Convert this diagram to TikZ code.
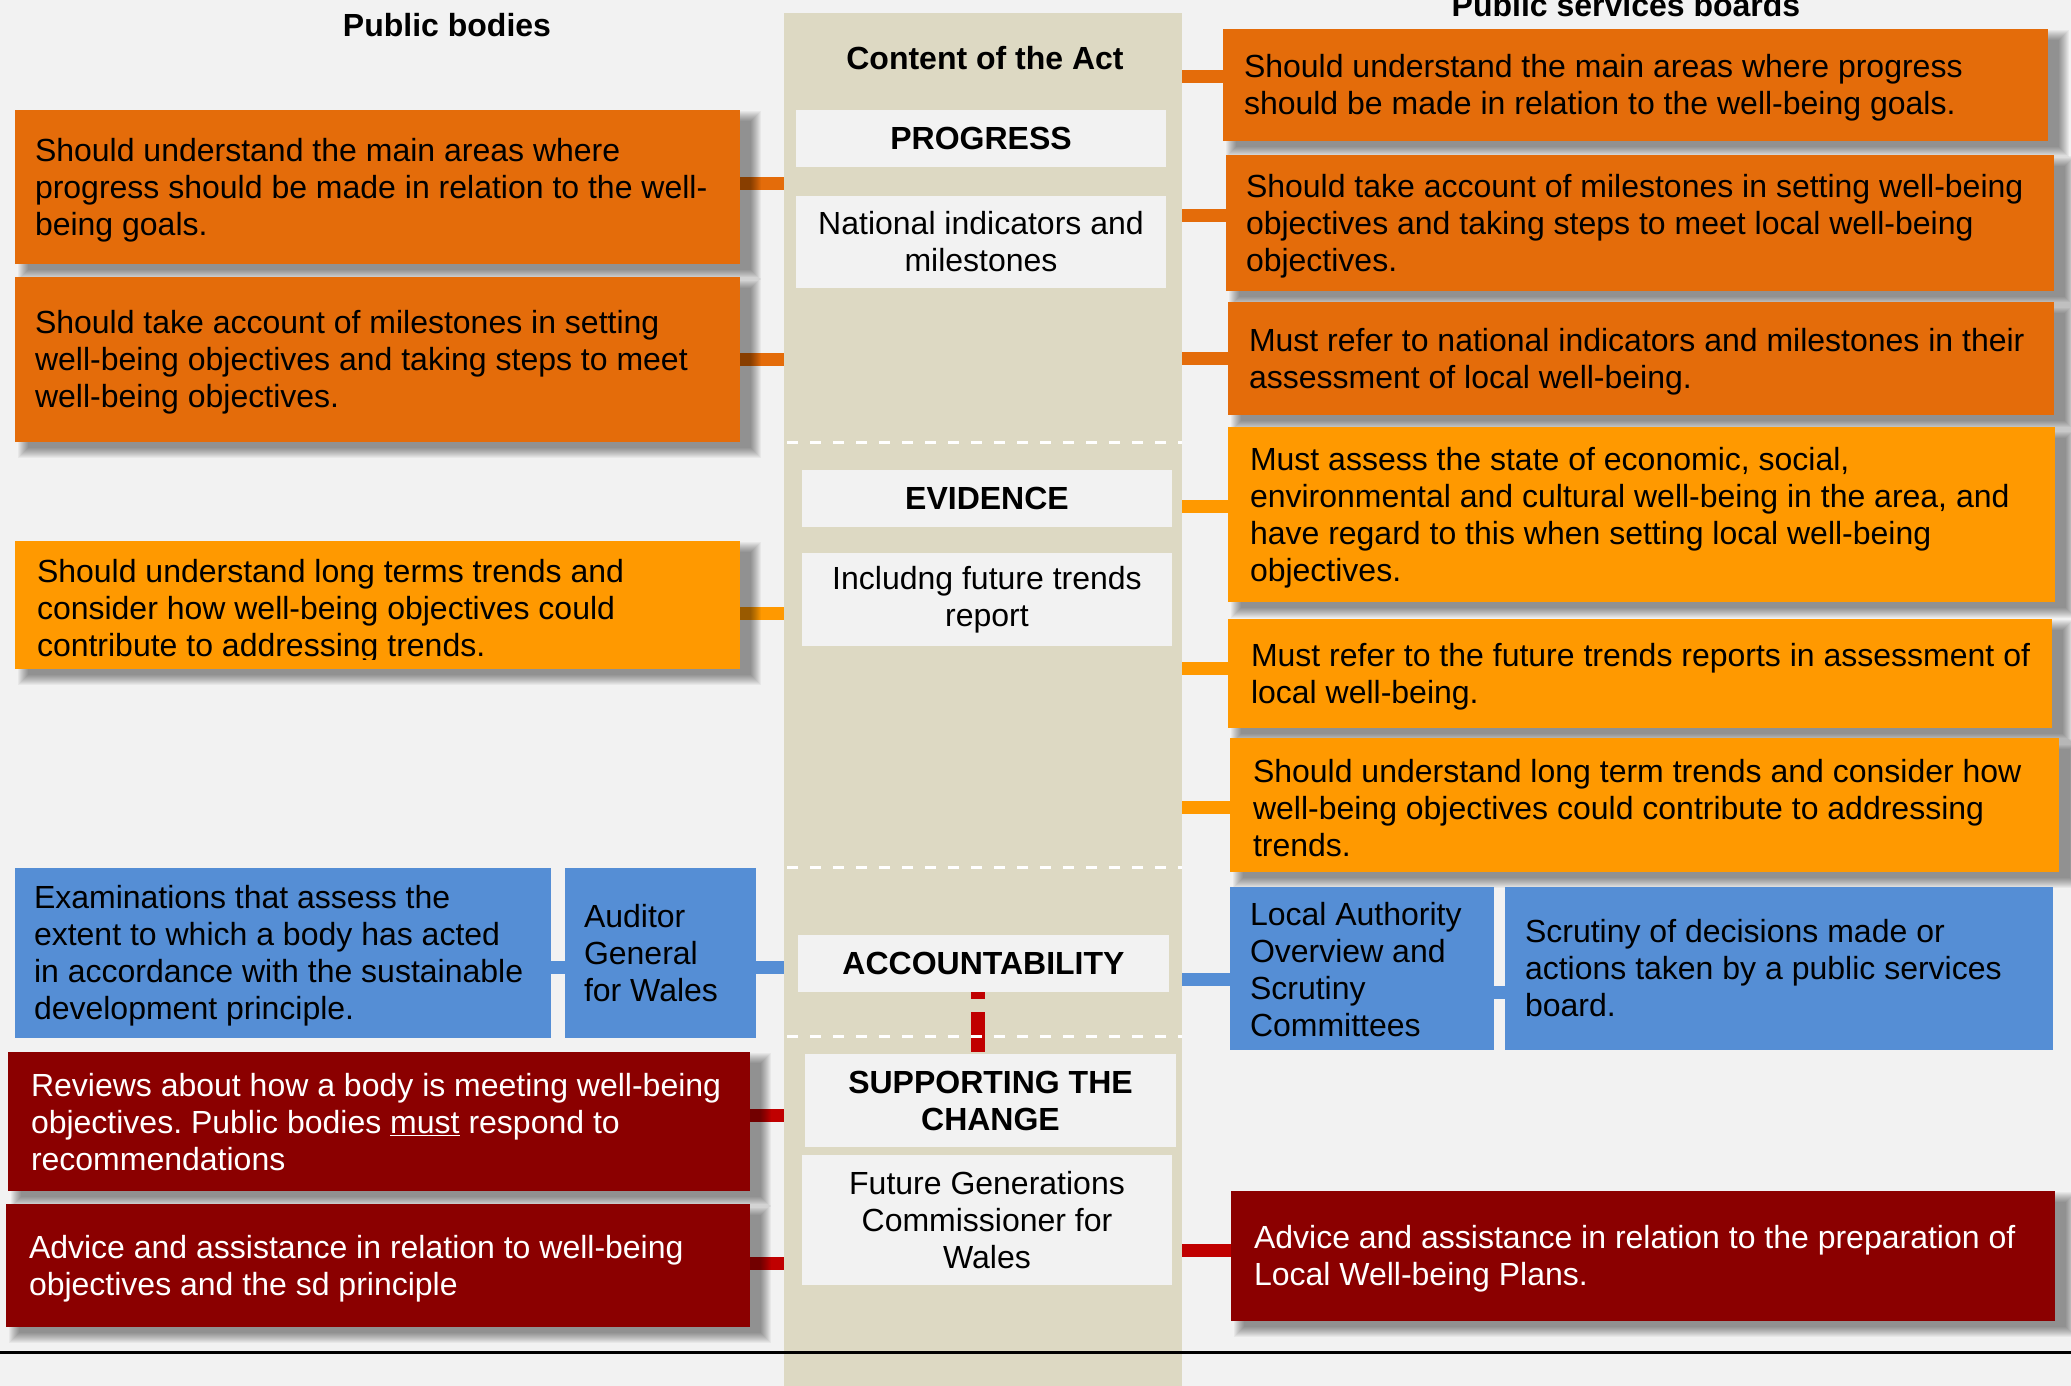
\documentclass[tikz,border=0pt]{standalone}
\usepackage{fontspec}
\setmainfont{Liberation Sans}
\usetikzlibrary{calc}
\frenchspacing

\definecolor{bgc}{HTML}{F2F2F2}
\definecolor{colc}{HTML}{DDD9C3}
\definecolor{orD}{HTML}{E46C0A}
\definecolor{orL}{HTML}{FF9900}
\definecolor{blu}{HTML}{558ED5}
\definecolor{redD}{HTML}{8B0000}
\definecolor{redC}{HTML}{C00000}

\newcommand\bodyfont{\fontsize{32}{37}\selectfont}

\pgfdeclarelayer{bg}
\pgfdeclarelayer{conn}
\pgfdeclarelayer{dash}
\pgfdeclarelayer{shad}
\pgfsetlayers{bg,conn,dash,shad,main}

\tikzset{
  sz/.style 2 args={minimum width=#1pt, minimum height=#2pt},
  box/.style={rectangle, inner sep=0pt, draw=none},
  obox/.style={box, fill=orD},
  lbox/.style={box, fill=orL},
  bbox/.style={box, fill=blu},
  rbox/.style={box, fill=redD},
  wbox/.style={box, fill=bgc, align=center, font=\bodyfont},
  txt/.style={inner sep=0pt, align=left, font=\bodyfont, anchor=west, yshift=-3pt},
  wtxt/.style={txt, text=white},
  head/.style={inner sep=0pt, font=\bodyfont\bfseries, anchor=base},
  conn/.style={line width=13pt},
  sepline/.style={white, line width=3pt, dash pattern=on 11pt off 12pt},
}

% soft drop shadow below a box node
\newcommand\boxshadow[1]{%
  \begin{pgfonlayer}{shad}
    \foreach \e in {-5,...,5}{
      \fill[black, opacity=0.042]
        ($(#1.north west)+(8-\e,6-\e)$) rectangle ($(#1.south east)+(16+\e,11+\e)$);
    }
  \end{pgfonlayer}}

\begin{document}
\begin{tikzpicture}[x=1pt, y=-1pt]
  \useasboundingbox (0,0) rectangle (2071,1386);

  \begin{pgfonlayer}{bg}
    \fill[bgc] (0,0) rectangle (2071,1386);
    \node[box, fill=colc, sz={398}{1380}, anchor=north west] (col) at (784,13) {};
  \end{pgfonlayer}

  % column headings
  \node[head] (hpb) at (447,37) {Public bodies};
  \node[head] (hpsb) at (1626,17) {Public services boards};
  \node[head] (hact) at (985,70) {Content of the Act};

  % content of the Act
  \node[wbox, sz={370}{57}, font=\bodyfont\bfseries] (prog) at (981,138.5) {PROGRESS};
  \node[wbox, sz={370}{92}] (nat) at (981,242) {National indicators and\\milestones};
  \node[wbox, sz={370}{57}, font=\bodyfont\bfseries] (evid) at (987,498.5) {EVIDENCE};
  \node[wbox, sz={370}{93}] (incl) at (987,599.5) {Includng future trends\\report};
  \node[wbox, sz={371}{57}, font=\bodyfont\bfseries] (acc) at (983.5,963.5) {ACCOUNTABILITY};
  \node[wbox, sz={371}{93}, font=\bodyfont\bfseries] (sup) at (990.5,1100.5) {SUPPORTING THE\\CHANGE};
  \node[wbox, sz={370}{130}] (fgc) at (987,1220) {Future Generations\\Commissioner for\\Wales};

  % public bodies
  \node[obox, sz={725}{154}] (L1) at (377.5,187) {};
  \node[txt] (L1t) at ([xshift=20pt]L1.west) {Should understand the main areas where\\progress should be made in relation to the well-\\being goals.};
  \node[obox, sz={725}{165}] (L2) at (377.5,359.5) {};
  \node[txt] (L2t) at ([xshift=20pt]L2.west) {Should take account of milestones in setting\\well-being objectives and taking steps to meet\\well-being objectives.};
  \node[lbox, sz={725}{128}] (L3) at (377.5,605) {};
  \begin{scope}
    \clip (L3.north west) rectangle ([yshift=10pt]L3.south east);
    \node[txt] (L3t) at ([xshift=22pt, yshift=-3pt]L3.west) {Should understand long terms trends and\\consider how well-being objectives could\\contribute to addressing trends.};
  \end{scope}
  \node[bbox, sz={536}{170}] (LB1) at (283,953) {};
  \node[txt] (LB1t) at ([xshift=19pt]LB1.west) {Examinations that assess the\\extent to which a body has acted\\in accordance with the sustainable\\development principle.};
  \node[bbox, sz={191}{170}] (LB2) at (660.5,953) {};
  \node[txt] (LB2t) at ([xshift=19pt, yshift=3pt]LB2.west) {Auditor\\General\\for Wales};
  \node[rbox, sz={742}{139}] (LR1) at (379,1121.5) {};
  \node[wtxt] (LR1t) at ([xshift=23pt, yshift=2pt]LR1.west) {Reviews about how a body is meeting well-being\\objectives. Public bodies \underline{must} respond to\\recommendations};
  \node[rbox, sz={744}{123}] (LR2) at (378,1265.5) {};
  \node[wtxt] (LR2t) at ([xshift=23pt]LR2.west) {Advice and assistance in relation to well-being\\objectives and the sd principle};

  % public services boards
  \node[obox, sz={825}{112}] (R1) at (1635.5,85) {};
  \node[txt] (R1t) at ([xshift=21pt]R1.west) {Should understand the main areas where progress\\should be made in relation to the well-being goals.};
  \node[obox, sz={828}{136}] (R2) at (1640,223) {};
  \node[txt] (R2t) at ([xshift=20pt]R2.west) {Should take account of milestones in setting well-being\\objectives and taking steps to meet local well-being\\objectives.};
  \node[obox, sz={826}{113}] (R3) at (1641,358.5) {};
  \node[txt] (R3t) at ([xshift=21pt]R3.west) {Must refer to national indicators and milestones in their\\assessment of local well-being.};
  \node[lbox, sz={827}{175}] (R4) at (1641.5,514.5) {};
  \node[txt] (R4t) at ([xshift=22pt]R4.west) {Must assess the state of economic, social,\\environmental and cultural well-being in the area, and\\have regard to this when setting local well-being\\objectives.};
  \node[lbox, sz={824}{109}] (R5) at (1640,673.5) {};
  \node[txt] (R5t) at ([xshift=23pt]R5.west) {Must refer to the future trends reports in assessment of\\local well-being.};
  \node[lbox, sz={829}{134}] (R6) at (1644.5,805) {};
  \node[txt] (R6t) at ([xshift=23pt]R6.west) {Should understand long term trends and consider how\\well-being objectives could contribute to addressing\\trends.};
  \node[bbox, sz={264}{163}] (RB1) at (1362,968.5) {};
  \node[txt] (RB1t) at ([xshift=20pt, yshift=2pt]RB1.west) {Local Authority\\Overview and\\Scrutiny\\Committees};
  \node[bbox, sz={548}{163}] (RB2) at (1779,968.5) {};
  \node[txt] (RB2t) at ([xshift=20pt, yshift=3pt]RB2.west) {Scrutiny of decisions made or\\actions taken by a public services\\board.};
  \node[rbox, sz={824}{130}] (RR1) at (1643,1256) {};
  \node[wtxt] (RR1t) at ([xshift=23pt]RR1.west) {Advice and assistance in relation to the preparation of\\Local Well-being Plans.};

  % shadows of the coloured boxes
  \foreach \b in {L1,L2,L3,LR1,LR2,R1,R2,R3,R4,R5,R6,RR1}{\boxshadow{\b}}

  % section separators in the column
  \begin{pgfonlayer}{dash}
    \draw[sepline] (787,442) -- (1182,442);
    \draw[sepline] (787,867) -- (1182,867);
    \draw[sepline] (787,1036) -- (1182,1036);
  \end{pgfonlayer}

  % connectors
  \begin{pgfonlayer}{conn}
    \draw[conn, orD] ([yshift=4pt]L1.east) -- ([yshift=4pt]L1.east -| col.west);
    \draw[conn, orD] (L2.east) -- (L2.east -| col.west);
    \draw[conn, orL] ([yshift=-8pt]L3.east) -- ([yshift=-8pt]L3.east -| col.west);
    \draw[conn, blu] ([yshift=-14.5pt]LB1.east) -- ([yshift=-14.5pt]LB2.west);
    \draw[conn, blu] ([yshift=-14.5pt]LB2.east) -- ([yshift=-14.5pt]LB2.east -| col.west);
    \draw[conn, redC] ([yshift=6.5pt]LR1.east) -- ([yshift=6.5pt]LR1.east -| col.west);
    \draw[conn, redC] ([yshift=2pt]LR2.east) -- ([yshift=2pt]LR2.east -| col.west);

    \draw[conn, orD] ([yshift=8.5pt]R1.west -| col.east) -- ([yshift=8.5pt]R1.west);
    \draw[conn, orD] ([yshift=7.5pt]R2.west -| col.east) -- ([yshift=7.5pt]R2.west);
    \draw[conn, orD] (R3.west -| col.east) -- (R3.west);
    \draw[conn, orL] ([yshift=8.5pt]R4.west -| col.east) -- ([yshift=8.5pt]R4.west);
    \draw[conn, orL] ([yshift=5pt]R5.west -| col.east) -- ([yshift=5pt]R5.west);
    \draw[conn, orL] ([yshift=-2.5pt]R6.west -| col.east) -- ([yshift=-2.5pt]R6.west);
    \draw[conn, blu] ([yshift=-11pt]RB1.west -| col.east) -- ([yshift=-11pt]RB1.west);
    \draw[conn, blu] ([yshift=-24pt]RB1.east) -- ([yshift=-24pt]RB2.west);
    \draw[conn, redC] ([yshift=6pt]RR1.west -| col.east) -- ([yshift=6pt]RR1.west);

    \draw[redC, line width=14pt, dash pattern=on 9pt off 13pt on 40pt off 100pt]
      ([xshift=-5.5pt, yshift=2pt]acc.south) -- ([xshift=-5.5pt]acc.south |- sup.north);
  \end{pgfonlayer}

  % base rule
  \draw[black, line width=3pt] (0,1352) -- (2071,1352);
\end{tikzpicture}
\end{document}
